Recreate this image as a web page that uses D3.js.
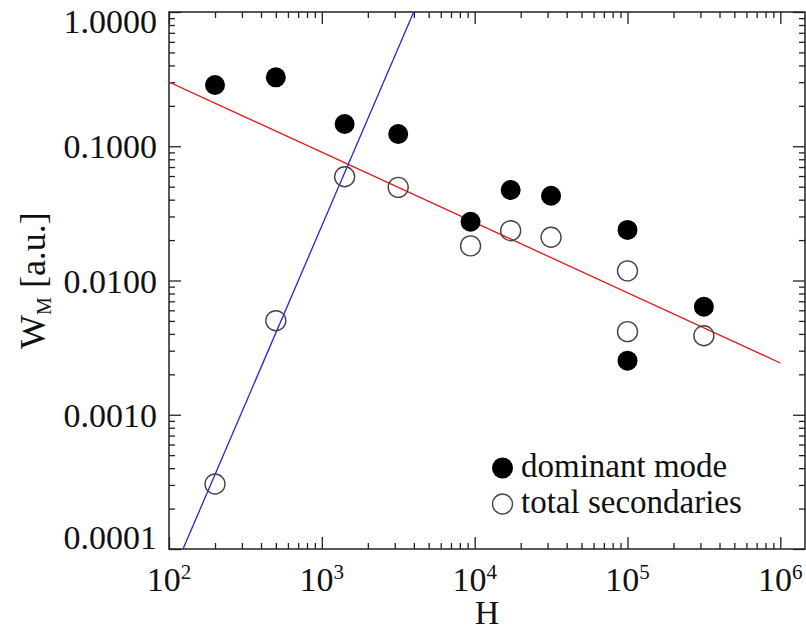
<!DOCTYPE html>
<html>
<head>
<meta charset="utf-8">
<script src="https://cdn.jsdelivr.net/npm/d3@7"></script>
<style>
  html, body { margin: 0; padding: 0; background: #fff; }
  svg { display: block; }
</style>
</head>
<body>
<svg id="chart" width="806" height="632"></svg>
<script>
// Mode energy W_M against H, log-log
const hValues = [200, 500, 1410, 3160, 9400, 17200, 31600, 100000, 100000, 316000];
const dominantMode = [0.286, 0.326, 0.1465, 0.1234, 0.0274, 0.0472, 0.0428, 0.0238, 0.00253, 0.00638];
const hSecondary = [200, 500, 1410, 3160, 9400, 17200, 31600, 100000, 100000, 316000];
const totalSecondaries = [0.000305, 0.00502, 0.0593, 0.0494, 0.0181, 0.0235, 0.0210, 0.0118, 0.00416, 0.00388];

// Power-law fits, given by their end points
const redFitH = [100, 1e6];
const redFitW = [0.301, 0.00243];
const blueFitH = [123.5, 3990];
const blueFitW = [1e-4, 1];

const yTickValues = [1, 0.1, 0.01, 0.001, 0.0001];
const yTickLabels = ["1.0000", "0.1000", "0.0100", "0.0010", "0.0001"];
const xTickValues = [1e2, 1e3, 1e4, 1e5, 1e6];
const xTickExponents = ["2", "3", "4", "5", "6"];

const legendLabels = ["dominant mode", "total secondaries"];

const fontFamily = "Tinos, 'Times New Roman', Times, 'Liberation Serif', 'DejaVu Serif', 'Noto Serif', serif";

const svg = d3.select("#chart")
  .attr("font-family", fontFamily);
const plotL = 169, plotR = 805, plotT = 12, plotB = 549;

const x = d3.scaleLog().domain([1e2, 1.45e6]).range([plotL, plotR]);
const y = d3.scaleLog().domain([1e-4, 1]).range([plotB, plotT]);

const majorLen = 12, minorLen = 6;
const axisColor = "#222";
const textColor = "#111";

const isDecade = v => Math.abs(Math.log10(v) - Math.round(Math.log10(v))) < 1e-6;
const xMinor = x.ticks().filter(v => !isDecade(v));
const yMinor = y.ticks().filter(v => !isDecade(v));

function drawAxis(gen, transform, values, len) {
  const g = svg.append("g")
    .attr("transform", transform)
    .call(gen.tickValues(values).tickSizeInner(-len).tickSizeOuter(0).tickFormat(""));
  g.select(".domain").remove();
  g.selectAll(".tick line").attr("stroke", axisColor).attr("stroke-width", 1.3);
}

// inward ticks on all four sides
drawAxis(d3.axisBottom(x), `translate(0,${plotB})`, xTickValues, majorLen);
drawAxis(d3.axisBottom(x), `translate(0,${plotB})`, xMinor, minorLen);
drawAxis(d3.axisTop(x), `translate(0,${plotT})`, xTickValues, majorLen);
drawAxis(d3.axisTop(x), `translate(0,${plotT})`, xMinor, minorLen);
drawAxis(d3.axisLeft(y), `translate(${plotL},0)`, yTickValues, majorLen);
drawAxis(d3.axisLeft(y), `translate(${plotL},0)`, yMinor, minorLen);
drawAxis(d3.axisRight(y), `translate(${plotR},0)`, yTickValues, majorLen);
drawAxis(d3.axisRight(y), `translate(${plotR},0)`, yMinor, minorLen);

// frame
svg.append("rect")
  .attr("x", plotL).attr("y", plotT)
  .attr("width", plotR - plotL).attr("height", plotB - plotT)
  .attr("fill", "none").attr("stroke", axisColor).attr("stroke-width", 1.5);

// y tick labels
svg.append("g").selectAll("text")
  .data(yTickValues)
  .join("text")
  .attr("x", plotL - 12)
  .attr("y", d => Math.min(Math.max(y(d) + 12, 33), plotB))
  .attr("text-anchor", "end")
  .attr("font-family", fontFamily)
  .attr("fill", textColor)
  .attr("font-size", 34)
  .text((d, i) => yTickLabels[i]);

// x tick labels, 10 with exponent
const xl = svg.append("g").selectAll("text")
  .data(xTickValues)
  .join("text")
  .attr("x", d => x(d))
  .attr("y", 591)
  .attr("text-anchor", "middle")
  .attr("font-family", fontFamily)
  .attr("fill", textColor)
  .attr("font-size", 34);
xl.append("tspan").text("10");
xl.append("tspan").attr("font-size", 21).attr("dy", -12).text((d, i) => xTickExponents[i]);

// axis titles
svg.append("text")
  .attr("x", (plotL + plotR) / 2)
  .attr("y", 624)
  .attr("text-anchor", "middle")
  .attr("font-family", fontFamily)
  .attr("fill", textColor)
  .attr("font-size", 34)
  .text("H");

const yt = svg.append("text")
  .attr("transform", `translate(45,${(plotT + plotB) / 2}) rotate(-90)`)
  .attr("text-anchor", "middle")
  .attr("font-family", fontFamily)
  .attr("fill", textColor)
  .attr("font-size", 36);
yt.append("tspan").text("W");
yt.append("tspan").attr("font-size", 20).attr("dy", 6).text("M");
yt.append("tspan").attr("dy", -6).text(" [a.u.]");

// fit lines, clipped to the frame
svg.append("clipPath").attr("id", "plotClip")
  .append("rect").attr("x", plotL).attr("y", plotT)
  .attr("width", plotR - plotL).attr("height", plotB - plotT);

const line = d3.line().x(d => x(d[0])).y(d => y(d[1]));
svg.append("path")
  .attr("clip-path", "url(#plotClip)")
  .attr("d", line(d3.zip(redFitH, redFitW)))
  .attr("fill", "none").attr("stroke", "#e3191c").attr("stroke-width", 1.3);
svg.append("path")
  .attr("clip-path", "url(#plotClip)")
  .attr("d", line(d3.zip(blueFitH, blueFitW)))
  .attr("fill", "none").attr("stroke", "#2626d9").attr("stroke-width", 1.3);

// data points
const r = 10;
svg.append("g").selectAll("circle")
  .data(d3.zip(hSecondary, totalSecondaries))
  .join("circle")
  .attr("cx", d => x(d[0])).attr("cy", d => y(d[1])).attr("r", r)
  .attr("fill", "none").attr("stroke", "#444").attr("stroke-width", 1.4);
svg.append("g").selectAll("circle")
  .data(d3.zip(hValues, dominantMode))
  .join("circle")
  .attr("cx", d => x(d[0])).attr("cy", d => y(d[1])).attr("r", r)
  .attr("fill", "#000");

// legend
const legend = svg.append("g");
const legendY = [468, 504];
legend.append("circle").attr("cx", 502.5).attr("cy", legendY[0]).attr("r", 10.5).attr("fill", "#000");
legend.append("circle").attr("cx", 502.5).attr("cy", legendY[1]).attr("r", 10)
  .attr("fill", "none").attr("stroke", "#444").attr("stroke-width", 1.4);
legend.selectAll("text")
  .data(legendLabels)
  .join("text")
  .attr("x", 521)
  .attr("y", (d, i) => legendY[i] + 9)
  .attr("font-family", fontFamily)
  .attr("fill", textColor)
  .attr("font-size", 33)
  .text(d => d);
</script>
</body>
</html>
